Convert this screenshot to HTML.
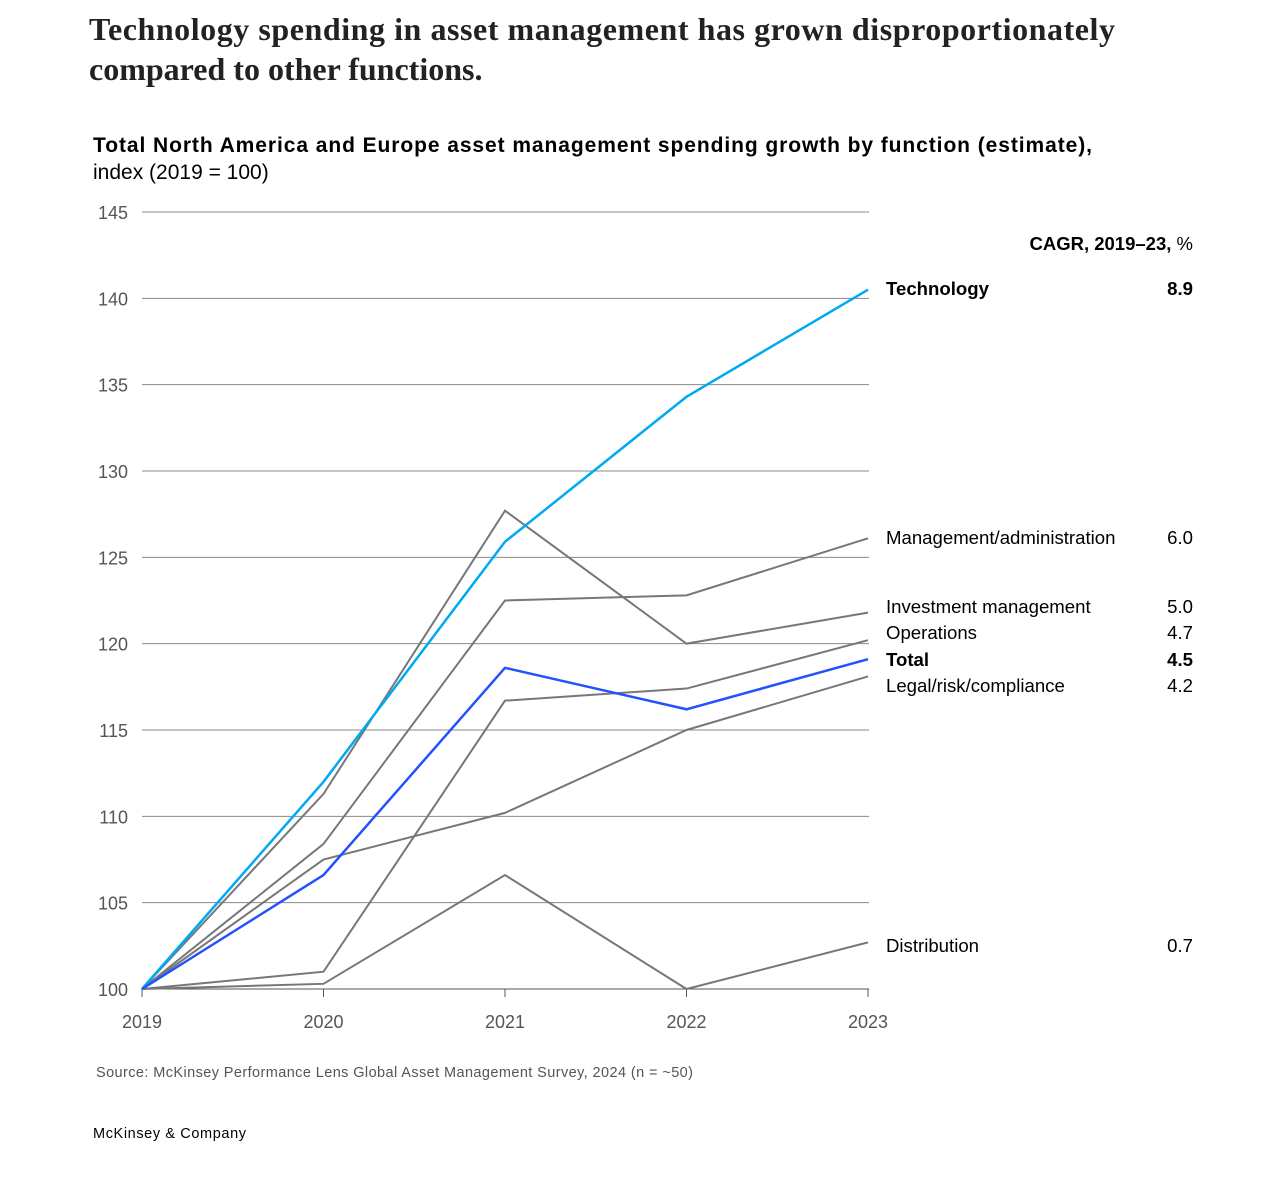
<!DOCTYPE html>
<html><head><meta charset="utf-8"><style>
body{margin:0;background:#fff;}
svg{display:block;font-family:"Liberation Sans",sans-serif;}
</style></head><body>
<svg id="chart" width="1280" height="1180">
<text x="89" y="40" font-family="Liberation Serif,serif" font-weight="bold" font-size="32" fill="#222" textLength="1026">Technology spending in asset management has grown disproportionately</text>
<text x="89" y="80" font-family="Liberation Serif,serif" font-weight="bold" font-size="32" fill="#222">compared to other functions.</text>
<text x="93" y="152" font-weight="bold" font-size="21" fill="#000" textLength="999">Total North America and Europe asset management spending growth by function (estimate),</text>
<text x="93" y="179" font-size="21" fill="#000">index (2019 = 100)</text>
<g id="grid"></g><g id="lines"></g><g id="labels"></g>
<text x="1193" y="250" text-anchor="end" font-size="18.5" fill="#000"><tspan font-weight="bold">CAGR, 2019–23,</tspan> %</text>
<text x="96" y="1077" font-size="14.5" fill="#555" textLength="597">Source: McKinsey Performance Lens Global Asset Management Survey, 2024 (n = ~50)</text>
<text x="93" y="1138" font-size="14.5" fill="#000" textLength="153">McKinsey &amp; Company</text>
</svg>
<script>
const years=[2019,2020,2021,2022,2023];
const yTicks=[100,105,110,115,120,125,130,135,140,145];
const names=["Distribution","Legal/risk/compliance","Operations","Management/administration","Investment management","Technology","Total"];
const cagr=["0.7","4.2","4.7","6.0","5.0","8.9","4.5"];
const distribution=[100,100.3,106.6,100,102.7];
const legal=[100,107.5,110.2,115,118.1];
const operations=[100,101,116.7,117.4,120.2];
const management=[100,108.4,122.5,122.8,126.1];
const investment=[100,111.3,127.7,120,121.8];
const technology=[100,112,125.9,134.3,140.5];
const total=[100,106.6,118.6,116.2,119.1];
const series=[distribution,legal,operations,management,investment,technology,total];
const colors=["#777","#777","#777","#777","#777","#00a9f4","#2251ff"];
const labelY=[945,685,632,537,606,288,659];
const NS="http://www.w3.org/2000/svg";
const x=i=>142+(868-142)*(years[i]-2019)/4;
const y=v=>989-(989-212)*(v-100)/45;
function mk(t,a,p){const e=document.createElementNS(NS,t);for(const k in a)e.setAttribute(k,a[k]);p.appendChild(e);return e;}
const g=document.getElementById('grid');
yTicks.forEach(t=>{
 const l=mk('line',{x1:142,x2:869,y1:y(t),y2:y(t),stroke:t===100?'#555':'#888','stroke-width':1},g);
 
 
 const tx=mk('text',{x:128,y:y(t)+7,'text-anchor':'end','font-size':18,fill:'#555'},g);tx.textContent=t;
 
 
});
years.forEach((yr,i)=>{
 const l=mk('line',{x1:x(i),x2:x(i),y1:989,y2:997,stroke:'#555'},g);
 
 
 const tx=mk('text',{x:x(i),y:1028,'text-anchor':'middle','font-size':18,fill:'#555'},g);tx.textContent=yr;
 
 
});
const lg=document.getElementById('lines'),lb=document.getElementById('labels');
series.forEach((s,k)=>{
 const p=mk('polyline',{points:s.map((v,i)=>x(i)+','+y(v)).join(' '),fill:'none',stroke:colors[k],'stroke-width':k>=5?2.5:2},lg);
 
 
 const bold=(k===5||k===6)?'bold':'normal';
 const t=mk('text',{x:886,y:labelY[k]+7,'font-size':18.6,fill:'#000','font-weight':bold},lb);t.textContent=names[k];
 
 
 const c=mk('text',{x:1193,y:labelY[k]+7,'font-size':18.6,fill:'#000','font-weight':bold,'text-anchor':'end'},lb);c.textContent=cagr[k];
 
 
});
</script>
</body></html>
